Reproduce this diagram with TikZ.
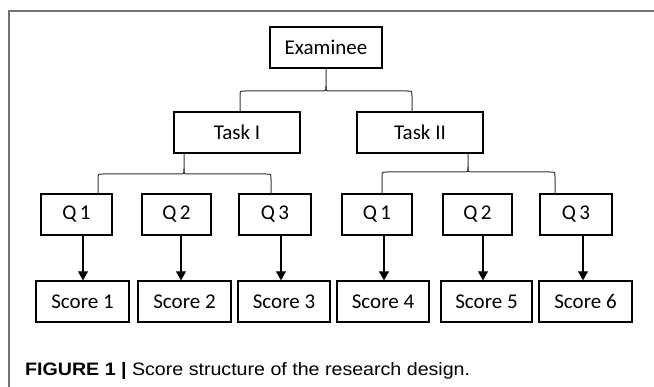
\documentclass[tikz,border=0pt]{standalone}
\usepackage{fontspec}
\setmainfont{Carlito}
\newfontfamily\capfont{Liberation Sans}
\usetikzlibrary{arrows.meta}
\begin{document}
\begin{tikzpicture}[x=1pt,y=-1pt,
  box/.style={draw=black,line width=1.3pt,minimum height=41pt,inner sep=0pt,
    font=\fontsize{21}{24}\selectfont},
  conn/.style={draw=black!80,line width=1pt},
  arr/.style={draw=black,line width=1.1pt,-{Triangle[width=10pt,length=9pt]}},
  frame/.style={draw=black!55,line width=1.6pt}]
\useasboundingbox (0,0) rectangle (654,387);
% frame lines
\draw[frame] (9,387) -- (9,11) -- (654,11);
% boxes
\node[box,minimum width=112pt] (ex) at (326,47.5) {Examinee};
\node[box,minimum width=126pt] (t1) at (237,132.5) {Task I};
\node[box,minimum width=126pt] (t2) at (420,132.5) {Task II};
\node[box,minimum width=71pt] (q1) at (76.5,214.5) {Q\,1};
\node[box,minimum width=69pt] (q2) at (176.5,214.5) {Q\,2};
\node[box,minimum width=72pt] (q3) at (275,214.5) {Q\,3};
\node[box,minimum width=70pt] (q4) at (377,214.5) {Q\,1};
\node[box,minimum width=69pt] (q5) at (477.5,214.5) {Q\,2};
\node[box,minimum width=72pt] (q6) at (576,214.5) {Q\,3};
\node[box,minimum width=93pt] (s1) at (82.5,301.5) {Score 1};
\node[box,minimum width=93pt] (s2) at (184.5,301.5) {Score 2};
\node[box,minimum width=92pt] (s3) at (284,301.5) {Score 3};
\node[box,minimum width=92pt] (s4) at (383,301.5) {Score 4};
\node[box,minimum width=91pt] (s5) at (486.5,301.5) {Score 5};
\node[box,minimum width=93pt] (s6) at (585.5,301.5) {Score 6};
% braces: stem from the parent, split into two rounded arms
\draw[conn] (ex.south) -- (326,86) .. controls (326,91) .. (321,91) -- (245,91)
  .. controls (240,91) .. (240,96) -- (240,0 |- t1.north);
\draw[conn] (326,86) .. controls (326,91) .. (331,91) -- (407,91)
  .. controls (412,91) .. (412,96) -- (412,0 |- t2.north);
\draw[conn] (184,0 |- t1.south) -- (184,169) .. controls (184,174) .. (179,174) -- (103,174)
  .. controls (98,174) .. (98,179) -- (98,0 |- q1.north);
\draw[conn] (184,169) .. controls (184,174) .. (189,174) -- (266,174)
  .. controls (271,174) .. (271,179) -- (271,0 |- q3.north);
\draw[conn] (468,0 |- t2.south) -- (468,167) .. controls (468,172) .. (463,172) -- (387,172)
  .. controls (382,172) .. (382,177) -- (382,0 |- q4.north);
\draw[conn] (468,167) .. controls (468,172) .. (473,172) -- (550,172)
  .. controls (555,172) .. (555,177) -- (555,0 |- q6.north);
% arrows from questions to scores
\draw[arr] (83,0 |- q1.south) -- (83,0 |- s1.north);
\draw[arr] (181,0 |- q2.south) -- (181,0 |- s2.north);
\draw[arr] (281,0 |- q3.south) -- (281,0 |- s3.north);
\draw[arr] (384,0 |- q4.south) -- (384,0 |- s4.north);
\draw[arr] (483,0 |- q5.south) -- (483,0 |- s5.north);
\draw[arr] (583,0 |- q6.south) -- (583,0 |- s6.north);
% caption
\node[anchor=base west,inner sep=0pt,font=\capfont\fontsize{18}{20}\selectfont] (cap) at (25,376)
  {\scalebox{1.09}[1]{\textbf{FIGURE 1 |} Score structure of the research design.}};
\end{tikzpicture}
\end{document}
